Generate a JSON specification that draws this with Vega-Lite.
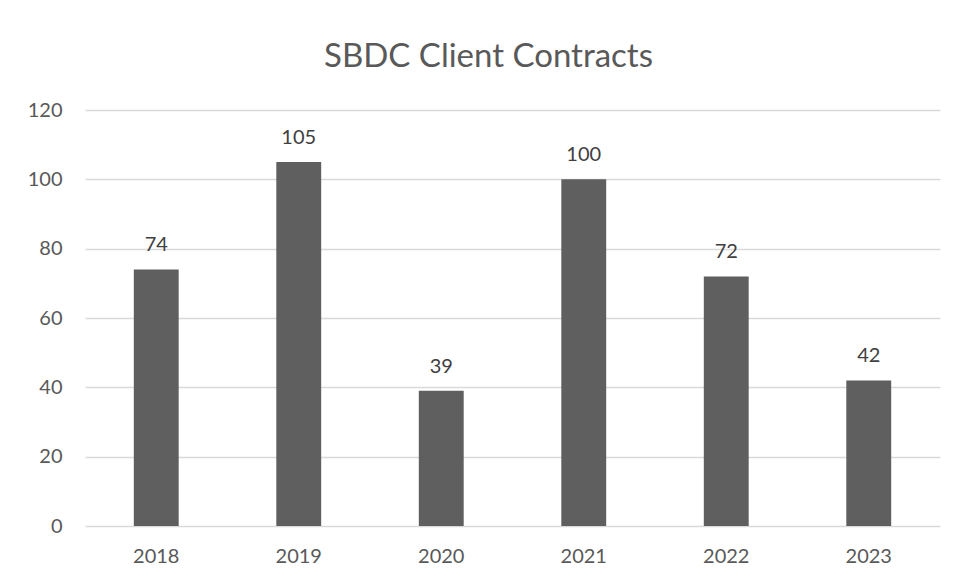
{
  "$schema": "https://vega.github.io/schema/vega-lite/v6.json",
  "width": 855,
  "height": 416,
  "autosize": {"type": "none"},
  "padding": {"left": 85, "top": 110, "right": 18, "bottom": 56},
  "background": "white",
  "title": {
    "text": "SBDC Client Contracts",
    "font": "Lato",
    "fontSize": 33,
    "fontWeight": "normal",
    "color": "#595959",
    "anchor": "middle",
    "baseline": "alphabetic",
    "offset": 0,
    "dx": -24
  },
  "data": {
    "values": [
      {"year": "2018", "value": 74},
      {"year": "2019", "value": 105},
      {"year": "2020", "value": 39},
      {"year": "2021", "value": 100},
      {"year": "2022", "value": 72},
      {"year": "2023", "value": 42}
    ]
  },
  "config": {
    "view": {"stroke": null},
    "axis": {"labelFont": "Lato", "labelFontSize": 20, "labelColor": "#595959"}
  },
  "encoding": {
    "x": {
      "field": "year",
      "type": "nominal",
      "sort": null,
      "scale": {"paddingInner": 0.685, "paddingOuter": 0.3425},
      "axis": {
        "title": null,
        "labelAngle": 0,
        "ticks": false,
        "domain": false,
        "labelPadding": 20,
        "grid": false
      }
    },
    "y": {
      "field": "value",
      "type": "quantitative",
      "scale": {"domain": [0, 120], "nice": false},
      "axis": {
        "title": null,
        "values": [0, 20, 40, 60, 80, 100, 120],
        "ticks": false,
        "domain": false,
        "labelPadding": 23,
        "gridColor": "#d9d9d9",
        "gridWidth": 1.3
      }
    }
  },
  "layer": [
    {"mark": {"type": "bar", "color": "#5f5f5f"}},
    {
      "mark": {
        "type": "text",
        "font": "Lato",
        "fontSize": 20,
        "color": "#404040",
        "baseline": "alphabetic",
        "dy": -18
      },
      "encoding": {"text": {"field": "value", "type": "quantitative"}}
    }
  ]
}
